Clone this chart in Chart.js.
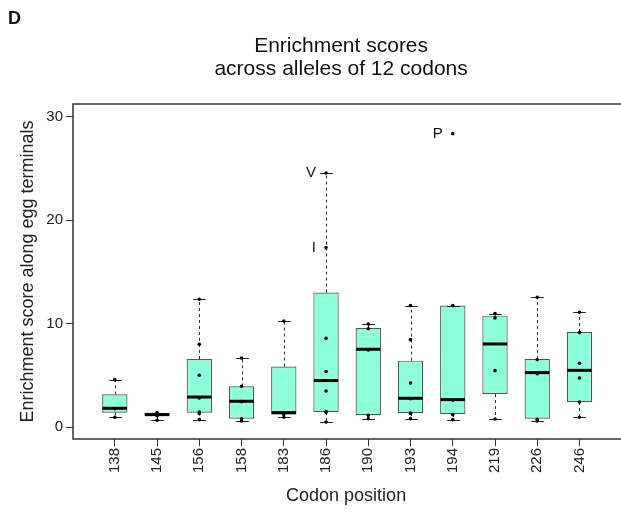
<!DOCTYPE html>
<html><head><meta charset="utf-8">
<script src="https://cdn.jsdelivr.net/npm/chart.js@4/dist/chart.umd.min.js"></script>
<style>html,body{margin:0;padding:0;background:#fff}#wrap{width:621px;height:513px}</style>
</head><body><div id="wrap"><canvas id="c" width="621" height="513"></canvas></div>
<script>
// ---- data ----
const codons = ['138','145','156','158','183','186','190','193','194','219','226','246'];
const whiskerLow  = [0.94,0.65,0.71,0.58,0.94,0.49,0.81,0.81,0.71,0.78,0.58,0.94];
const q1          = [1.39,1.03,1.39,0.81,1.20,1.45,1.13,1.35,1.26,3.19,0.81,2.42];
const medians     = [1.81,1.20,2.90,2.49,1.39,4.49,7.52,2.78,2.65,8.03,5.26,5.48];
const q3          = [3.16,1.39,6.58,3.94,5.84,13.00,9.58,6.42,11.74,10.77,6.58,9.19];
const whiskerHigh = [4.58,1.40,12.35,6.68,10.25,24.57,9.96,11.74,11.74,10.97,12.54,11.10];
const alleleScores = [
  [4.58,1.78,0.94],
  [1.40,1.30,1.20,1.08,0.65],
  [12.35,8.00,5.00,2.80,1.45,1.30,0.71],
  [6.68,3.94,2.45,0.80,0.58],
  [10.25,1.39,1.20,0.94],
  [24.57,17.35,8.58,5.36,3.48,1.50,1.40,0.49],
  [9.96,9.50,7.45,1.13,0.81],
  [11.74,8.45,4.26,2.74,1.36,1.30,0.81],
  [28.37,11.74,2.60,1.20,0.71],
  [10.97,10.55,5.45,0.78],
  [12.54,6.52,5.16,0.74,0.58],
  [11.10,9.13,6.16,4.74,2.42,0.94]
];
const labelCodons = ['186','186','194'];
const labelScores = [24.57,17.35,28.37];
const labelTexts  = ['V','I','P'];
const yTicks = [0,10,20,30];
const titleLines = ['Enrichment scores','across alleles of 12 codons'];
const panelLetter = 'D';
const xTitle = 'Codon position';
const yTitle = 'Enrichment score along egg terminals';

const FONT = "'Liberation Sans', Arial, Helvetica, sans-serif";
Chart.defaults.font.family = FONT;

const boxData = codons.map((c,i)=>({x:i+1, y:[q1[i], q3[i]]}));
const pointData = [];
alleleScores.forEach((arr,i)=>arr.forEach(v=>pointData.push({x:i+1, y:v})));

const boxDecor = {
  id:'boxDecor',
  afterDatasetDraw(chart, args){
    if (args.index !== 0) return;
    const ctx = chart.ctx, ys = chart.scales.y;
    args.meta.data.forEach((bar,i)=>{
      const p = bar.getProps(['x','width'], true);
      const x = Math.round(p.x) + 0.5, half = p.width/2, cap = p.width/4;
      const pHi = ys.getPixelForValue(whiskerHigh[i]), pLo = ys.getPixelForValue(whiskerLow[i]);
      const pQ3 = ys.getPixelForValue(q3[i]), pQ1 = ys.getPixelForValue(q1[i]);
      const pMed = ys.getPixelForValue(medians[i]);
      ctx.save();
      ctx.strokeStyle = '#333'; ctx.lineWidth = 1; ctx.setLineDash([3,3]);
      ctx.beginPath();
      ctx.moveTo(x, pQ3); ctx.lineTo(x, pHi);
      ctx.moveTo(x, pQ1); ctx.lineTo(x, pLo);
      ctx.stroke();
      ctx.setLineDash([]);
      ctx.strokeStyle = '#222';
      ctx.beginPath();
      ctx.moveTo(x-cap, Math.round(pHi)+0.5); ctx.lineTo(x+cap, Math.round(pHi)+0.5);
      ctx.moveTo(x-cap, Math.round(pLo)+0.5); ctx.lineTo(x+cap, Math.round(pLo)+0.5);
      ctx.stroke();
      ctx.strokeStyle = '#000'; ctx.lineWidth = 3;
      ctx.beginPath();
      ctx.moveTo(p.x-half+0.5, pMed); ctx.lineTo(p.x+half-0.5, pMed);
      ctx.stroke();
      ctx.restore();
    });
  }
};

const frameAndText = {
  id:'frameAndText',
  afterDatasetsDraw(chart){
    const ctx = chart.ctx, xs = chart.scales.x, ys = chart.scales.y;
    ctx.save();
    ctx.fillStyle = '#111';
    ctx.font = '15px ' + FONT;
    ctx.textAlign = 'right'; ctx.textBaseline = 'middle';
    labelTexts.forEach((t,k)=>{
      const xi = codons.indexOf(labelCodons[k]) + 1;
      ctx.fillText(t, xs.getPixelForValue(xi) - 10, ys.getPixelForValue(labelScores[k]));
    });
    ctx.restore();
  },
  afterDraw(chart){
    const ctx = chart.ctx, a = chart.chartArea;
    ctx.save();
    ctx.strokeStyle = '#333'; ctx.lineWidth = 1.5;
    ctx.beginPath();
    ctx.moveTo(a.right + 3, a.top); ctx.lineTo(a.left, a.top);
    ctx.lineTo(a.left, a.bottom); ctx.lineTo(a.right + 3, a.bottom);
    ctx.stroke();
    ctx.fillStyle = '#111';
    ctx.textAlign = 'center'; ctx.textBaseline = 'alphabetic';
    ctx.font = '21px ' + FONT;
    const cx = (a.left + a.right)/2 - 5;
    ctx.fillText(titleLines[0], cx, 51.5);
    ctx.fillText(titleLines[1], cx, 75);
    ctx.textAlign = 'left';
    ctx.font = 'bold 18px ' + FONT;
    ctx.fillText(panelLetter, 8, 23.5);
    ctx.restore();
  }
};

new Chart(document.getElementById('c'), {
  type:'bar',
  data:{
    datasets:[
      {type:'bar', label:'IQR', data:boxData, backgroundColor:'#8dffda', borderColor:'#555',
       borderWidth:1.2, borderSkipped:false, barPercentage:0.6, categoryPercentage:1, order:2},
      {type:'scatter', label:'alleles', data:pointData, pointRadius:1.8, pointBackgroundColor:'#000',
       pointBorderWidth:0, pointHoverRadius:1.8, order:1}
    ]
  },
  options:{
    responsive:false, animation:false, devicePixelRatio:1,
    layout:{padding:{top:104, left:0, right:0, bottom:0}},
    plugins:{legend:{display:false}, tooltip:{enabled:false}, title:{display:false}},
    scales:{
      x:{
        type:'linear', min:0.01, max:12.94, offset:false,
        afterFit(s){ s.height = 74; },
        afterBuildTicks(s){ s.ticks = codons.map((c,i)=>({value:i+1})); },
        ticks:{ callback:(v)=>codons[Math.round(v)-1], minRotation:90, maxRotation:90, autoSkip:false,
                font:{size:15}, color:'#222', padding:2 },
        grid:{ offset:false, drawOnChartArea:false, drawTicks:true, tickLength:7, color:'#333' },
        border:{ display:false },
        title:{ display:true, text:xTitle, font:{size:18}, color:'#222', padding:{top:0,bottom:6} }
      },
      y:{
        type:'linear', min:-1.16, max:31.24,
        afterFit(s){ s.width = 73; },
        afterBuildTicks(s){ s.ticks = yTicks.map(v=>({value:v})); },
        ticks:{ font:{size:15}, color:'#222', padding:3 },
        grid:{ drawOnChartArea:false, drawTicks:true, tickLength:7, color:'#333' },
        border:{ display:false },
        title:{ display:true, text:yTitle, font:{size:18}, color:'#222', padding:{top:17,bottom:0} }
      }
    }
  },
  plugins:[boxDecor, frameAndText]
});
</script>
</body></html>
